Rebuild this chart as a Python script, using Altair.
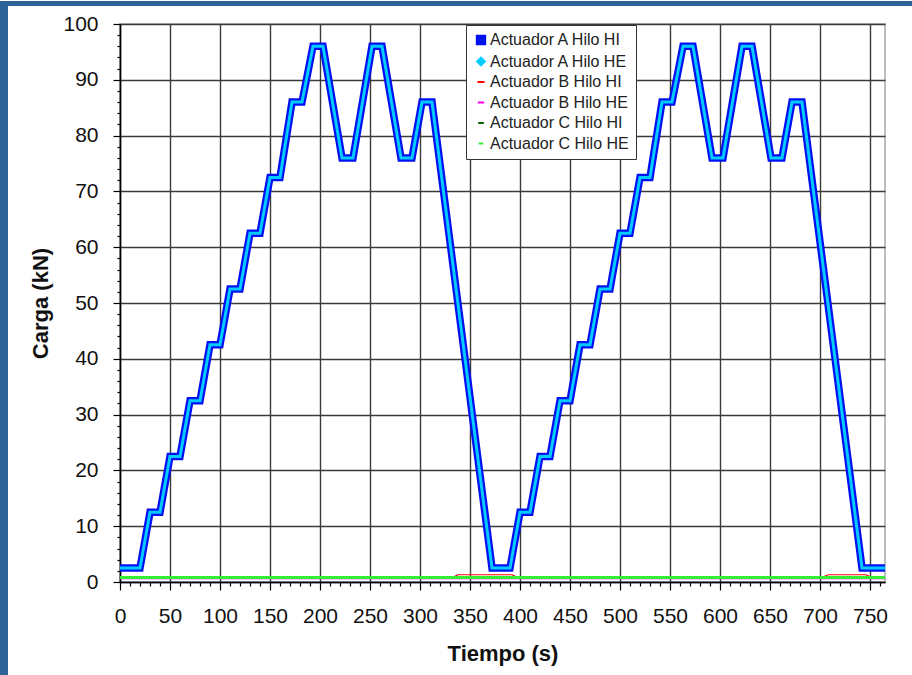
import altair as alt
import pandas as pd

# ---------------- data ----------------
series_names = ["Actuador A Hilo HI", "Actuador A Hilo HE", "Actuador B Hilo HI",
                "Actuador B Hilo HE", "Actuador C Hilo HI", "Actuador C Hilo HE"]

tiempo_a = [0, 20, 30, 40, 50, 60, 70, 80, 90, 100, 110, 120, 130, 140, 150, 160,
            172, 182, 193, 203, 222, 233, 252, 262, 281, 292, 302, 312, 372, 390,
            400, 410, 420, 430, 440, 450, 460, 470, 480, 490, 500, 510, 520, 530,
            542, 552, 563, 573, 592, 603, 622, 632, 651, 662, 672, 682, 742, 765]
carga_a_hi = [2.5, 2.5, 12.5, 12.5, 22.5, 22.5, 32.5, 32.5, 42.5, 42.5, 52.5, 52.5,
              62.5, 62.5, 72.5, 72.5, 86, 86, 96, 96, 76, 76, 96, 96, 76, 76, 86, 86,
              2.5, 2.5,
              12.5, 12.5, 22.5, 22.5, 32.5, 32.5, 42.5, 42.5, 52.5, 52.5,
              62.5, 62.5, 72.5, 72.5, 86, 86, 96, 96, 76, 76, 96, 96, 76, 76, 86, 86,
              2.5, 2.5]
carga_a_he = [2.5, 2.5, 12.5, 12.5, 22.5, 22.5, 32.5, 32.5, 42.5, 42.5, 52.5, 52.5,
              62.5, 62.5, 72.5, 72.5, 86, 86, 96, 96, 76, 76, 96, 96, 76, 76, 86, 86,
              2.5, 2.5,
              12.5, 12.5, 22.5, 22.5, 32.5, 32.5, 42.5, 42.5, 52.5, 52.5,
              62.5, 62.5, 72.5, 72.5, 86, 86, 96, 96, 76, 76, 96, 96, 76, 76, 86, 86,
              2.5, 2.5]

tiempo_b_hi = [0, 332, 338, 392, 398, 702, 708, 746, 752, 765]
carga_b_hi = [0.8, 0.8, 1.3, 1.3, 0.8, 0.8, 1.3, 1.3, 0.8, 0.8]

tiempo_bajo = [0, 765]
carga_b_he = [0.6, 0.6]
carga_c_hi = [0.75, 0.75]
carga_c_he = [0.8, 0.8]

x_major = [0, 50, 100, 150, 200, 250, 300, 350, 400, 450, 500, 550, 600, 650, 700, 750]
y_major = [0, 10, 20, 30, 40, 50, 60, 70, 80, 90, 100]
x_ticks = list(range(0, 770, 10))
y_ticks = list(range(0, 102, 2))

# ---------------- styles ----------------
colores = ["#0010F0", "#00CCFF", "#FF0000", "#FF00FF", "#006400", "#33EE33"]
anchos = [7.5, 3, 1.2, 1.2, 1.2, 3]
formas = ["square", "diamond", "stroke", "stroke", "stroke", "stroke"]
tamanos = [70, 22, 70, 70, 70, 70]
BLUE = "#2E6399"
FONT = "Liberation Sans"

tablas = []
for nombre, t, c in [
    (series_names[0], tiempo_a, carga_a_hi),
    (series_names[1], tiempo_a, carga_a_he),
    (series_names[2], tiempo_b_hi, carga_b_hi),
    (series_names[3], tiempo_bajo, carga_b_he),
    (series_names[4], tiempo_bajo, carga_c_hi),
    (series_names[5], tiempo_bajo, carga_c_he),
]:
    tablas.append(pd.DataFrame({"t": t, "carga": c, "serie": nombre}))
df = pd.concat(tablas, ignore_index=True)

x_enc = alt.X(
    "t:Q",
    scale=alt.Scale(domain=[0, 765], nice=False, zero=False),
    axis=alt.Axis(
        values=x_ticks,
        labelExpr="datum.value % 50 === 0 ? datum.label : ''",
        labelOverlap=False, labelFlush=False,
        tickSize={"condition": {"test": "datum.value % 50 === 0", "value": 8}, "value": 4},
        gridOpacity={"condition": {"test": "datum.value % 50 === 0", "value": 1}, "value": 0},
        grid=True, gridColor="#3a3a3a", gridWidth=1.4,
        domainColor="#000", domainWidth=1.5, tickColor="#000", tickWidth=1.2,
        labelFont=FONT, labelFontSize=21, labelColor="#111", labelPadding=15,
        title="Tiempo (s)", titleFont=FONT, titleFontSize=22, titleFontWeight="bold",
        titleColor="#111", titlePadding=17,
    ),
)
y_enc = alt.Y(
    "carga:Q",
    scale=alt.Scale(domain=[0, 100], nice=False, zero=False),
    axis=alt.Axis(
        values=y_ticks,
        labelExpr="datum.value % 10 === 0 ? datum.label : ''",
        labelOverlap=False, labelFlush=False,
        tickSize={"condition": {"test": "datum.value % 10 === 0", "value": 7}, "value": 3},
        gridOpacity={"condition": {"test": "datum.value % 10 === 0", "value": 1}, "value": 0},
        grid=True, gridColor="#3a3a3a", gridWidth=1.4,
        domainColor="#000", domainWidth=1.5, tickColor="#000", tickWidth=1.2,
        labelFont=FONT, labelFontSize=21, labelColor="#111", labelPadding=15,
        title="Carga (kN)", titleFont=FONT, titleFontSize=22, titleFontWeight="bold",
        titleColor="#111", titlePadding=10,
    ),
)

base = alt.Chart(df)
capas = []
for i in range(6):
    capas.append(
        base.transform_filter(alt.datum.serie == series_names[i])
        .mark_line(color=colores[i], strokeWidth=anchos[i], clip=False)
        .encode(x=x_enc, y=y_enc)
    )

leyenda_df = pd.DataFrame({"serie": series_names})
leyenda = alt.Chart(leyenda_df).transform_filter("datum.serie == 'ninguna'").mark_point(
    strokeWidth=2, opacity=1
).encode(
    fill=alt.Fill("serie:N", scale=alt.Scale(domain=series_names, range=colores), legend=alt.Legend(title=None)),
    stroke=alt.Stroke("serie:N", scale=alt.Scale(domain=series_names, range=colores), legend=alt.Legend(title=None)),
    shape=alt.Shape("serie:N", scale=alt.Scale(domain=series_names, range=formas), legend=alt.Legend(title=None)),
    size=alt.Size("serie:N", scale=alt.Scale(domain=series_names, range=tamanos), legend=alt.Legend(title=None)),
)

main = alt.layer(*capas, leyenda).properties(width=765, height=558)

strip_df = pd.DataFrame({"k": [0]})

def tira(w, h, fill):
    return alt.Chart(strip_df).mark_point(opacity=0).encode(
        x=alt.X("k:Q", axis=None), y=alt.Y("k:Q", axis=None)
    ).properties(width=w, height=h, view=alt.ViewBackground(fill=fill, stroke=None))

left_strip = tira(8, 675, BLUE)
top_strip = tira(904, 5, BLUE)
spacer = tira(1, 558, "white")

row = alt.hconcat(spacer, main, spacing=111, bounds="flush")
right = alt.vconcat(top_strip, row, spacing=18, bounds="flush")
chart = alt.hconcat(left_strip, right, spacing=0, bounds="flush").properties(
    padding=0, background="white"
).configure_view(
    stroke="#BDBDBD", strokeWidth=2, fill="white"
).configure_legend(
    orient="none", legendX=466, legendY=24,
    strokeColor="#333", fillColor="white", padding=7, rowPadding=4.5,
    labelFont=FONT, labelFontSize=16, labelColor="#222", labelLimit=300,
    labelOffset=1, symbolStrokeWidth=2, symbolOpacity=1,
)

chart.save("out.html", embed_options={"renderer": "svg", "actions": False})
